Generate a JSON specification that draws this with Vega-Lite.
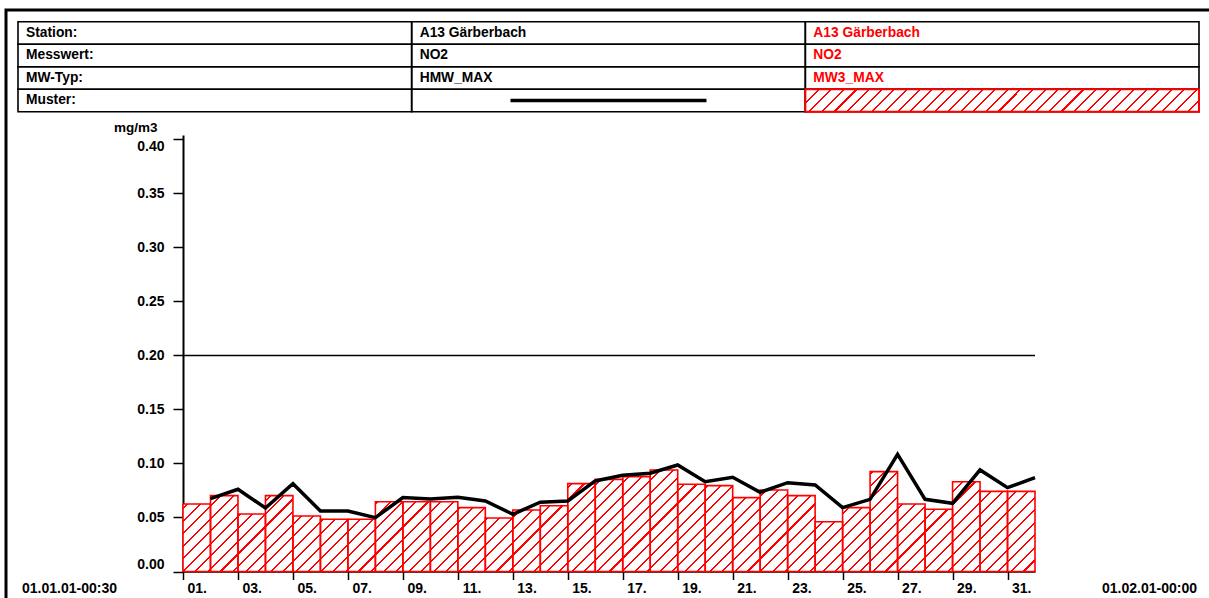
{
  "$schema": "https://vega.github.io/schema/vega-lite/v6.json",
  "width": 1205,
  "height": 590,
  "autosize": {"type": "none"},
  "padding": {"left": 6, "top": 10, "right": 0, "bottom": 0},
  "background": "white",
  "config": {
    "view": {"stroke": "black", "strokeWidth": 3},
    "font": "Liberation Sans",
    "text": {"font": "Liberation Sans"}
  },
  "datasets": {
    "days": [
      {"d0": 0, "d1": 1, "mw3": 0.0625, "hmw": 0.0674},
      {"d0": 1, "d1": 2, "mw3": 0.0702, "hmw": 0.0761},
      {"d0": 2, "d1": 3, "mw3": 0.0532, "hmw": 0.0588},
      {"d0": 3, "d1": 4, "mw3": 0.0702, "hmw": 0.0813},
      {"d0": 4, "d1": 5, "mw3": 0.0514, "hmw": 0.056},
      {"d0": 5, "d1": 6, "mw3": 0.0483, "hmw": 0.056},
      {"d0": 6, "d1": 7, "mw3": 0.0483, "hmw": 0.0498},
      {"d0": 7, "d1": 8, "mw3": 0.0646, "hmw": 0.0684},
      {"d0": 8, "d1": 9, "mw3": 0.0646, "hmw": 0.0671},
      {"d0": 9, "d1": 10, "mw3": 0.0646, "hmw": 0.0687},
      {"d0": 10, "d1": 11, "mw3": 0.0591, "hmw": 0.0653},
      {"d0": 11, "d1": 12, "mw3": 0.0495, "hmw": 0.053},
      {"d0": 12, "d1": 13, "mw3": 0.0569, "hmw": 0.0641},
      {"d0": 13, "d1": 14, "mw3": 0.0609, "hmw": 0.0653},
      {"d0": 14, "d1": 15, "mw3": 0.0813, "hmw": 0.0838},
      {"d0": 15, "d1": 16, "mw3": 0.0853, "hmw": 0.0891},
      {"d0": 16, "d1": 17, "mw3": 0.0878, "hmw": 0.0909},
      {"d0": 17, "d1": 18, "mw3": 0.094, "hmw": 0.0986},
      {"d0": 18, "d1": 19, "mw3": 0.0807, "hmw": 0.0831},
      {"d0": 19, "d1": 20, "mw3": 0.0795, "hmw": 0.0872},
      {"d0": 20, "d1": 21, "mw3": 0.0684, "hmw": 0.0733},
      {"d0": 21, "d1": 22, "mw3": 0.0755, "hmw": 0.0822},
      {"d0": 22, "d1": 23, "mw3": 0.0702, "hmw": 0.0801},
      {"d0": 23, "d1": 24, "mw3": 0.0461, "hmw": 0.0591},
      {"d0": 24, "d1": 25, "mw3": 0.0591, "hmw": 0.0668},
      {"d0": 25, "d1": 26, "mw3": 0.0924, "hmw": 0.1085},
      {"d0": 26, "d1": 27, "mw3": 0.0625, "hmw": 0.0668},
      {"d0": 27, "d1": 28, "mw3": 0.0576, "hmw": 0.0631},
      {"d0": 28, "d1": 29, "mw3": 0.0831, "hmw": 0.094},
      {"d0": 29, "d1": 30, "mw3": 0.0742, "hmw": 0.0776},
      {"d0": 30, "d1": 31, "mw3": 0.0742, "hmw": 0.0869}
    ],
    "limit": [{"y": 0.2}],
    "ends": [
      {"d": 0, "t": "01.01.01-00:30", "side": "left"},
      {"d": 31, "t": "01.02.01-00:00", "side": "right"}
    ],
    "table": [
      {"row": "Station:", "col": "c1", "text": "Station:"},
      {"row": "Station:", "col": "c2", "text": "A13 Gärberbach"},
      {"row": "Station:", "col": "c3", "text": "A13 Gärberbach"},
      {"row": "Messwert:", "col": "c1", "text": "Messwert:"},
      {"row": "Messwert:", "col": "c2", "text": "NO2"},
      {"row": "Messwert:", "col": "c3", "text": "NO2"},
      {"row": "MW-Typ:", "col": "c1", "text": "MW-Typ:"},
      {"row": "MW-Typ:", "col": "c2", "text": "HMW_MAX"},
      {"row": "MW-Typ:", "col": "c3", "text": "MW3_MAX"},
      {"row": "Muster:", "col": "c1", "text": "Muster:"},
      {"row": "Muster:", "col": "c2", "text": ""},
      {"row": "Muster:", "col": "c3", "text": ""}
    ],
    "legline": [{"row": "Muster:", "col": "c2"}],
    "leghatch": [{"row": "Muster:", "col": "c3"}]
  },
  "resolve": {"scale": {"x": "independent", "y": "independent", "color": "independent"}},
  "layer": [
    {
      "layer": [
        {
          "data": {"name": "days"},
          "transform": [{"fold": ["d0", "d1"], "as": ["k", "x"]}],
          "mark": {
            "type": "area",
            "interpolate": "linear",
            "fill": {
              "gradient": "linear", "x1": 0, "y1": 0, "x2": 1.10352, "y2": 0.13154,
              "stops": [
                {"offset":0,"color":"red"},{"offset":0.0022,"color":"red"},{"offset":0.0022,"color":"white"},{"offset":0.01316,"color":"white"},
                {"offset":0.01316,"color":"red"},{"offset":0.01536,"color":"red"},{"offset":0.01536,"color":"white"},{"offset":0.02632,"color":"white"},
                {"offset":0.02632,"color":"red"},{"offset":0.02852,"color":"red"},{"offset":0.02852,"color":"white"},{"offset":0.03947,"color":"white"},
                {"offset":0.03947,"color":"red"},{"offset":0.04167,"color":"red"},{"offset":0.04167,"color":"white"},{"offset":0.05263,"color":"white"},
                {"offset":0.05263,"color":"red"},{"offset":0.05483,"color":"red"},{"offset":0.05483,"color":"white"},{"offset":0.06579,"color":"white"},
                {"offset":0.06579,"color":"red"},{"offset":0.06799,"color":"red"},{"offset":0.06799,"color":"white"},{"offset":0.07895,"color":"white"},
                {"offset":0.07895,"color":"red"},{"offset":0.08115,"color":"red"},{"offset":0.08115,"color":"white"},{"offset":0.09211,"color":"white"},
                {"offset":0.09211,"color":"red"},{"offset":0.09431,"color":"red"},{"offset":0.09431,"color":"white"},{"offset":0.10526,"color":"white"},
                {"offset":0.10526,"color":"red"},{"offset":0.10746,"color":"red"},{"offset":0.10746,"color":"white"},{"offset":0.11842,"color":"white"},
                {"offset":0.11842,"color":"red"},{"offset":0.12062,"color":"red"},{"offset":0.12062,"color":"white"},{"offset":0.13158,"color":"white"},
                {"offset":0.13158,"color":"red"},{"offset":0.13378,"color":"red"},{"offset":0.13378,"color":"white"},{"offset":0.14474,"color":"white"},
                {"offset":0.14474,"color":"red"},{"offset":0.14694,"color":"red"},{"offset":0.14694,"color":"white"},{"offset":0.15789,"color":"white"},
                {"offset":0.15789,"color":"red"},{"offset":0.16009,"color":"red"},{"offset":0.16009,"color":"white"},{"offset":0.17105,"color":"white"},
                {"offset":0.17105,"color":"red"},{"offset":0.17325,"color":"red"},{"offset":0.17325,"color":"white"},{"offset":0.18421,"color":"white"},
                {"offset":0.18421,"color":"red"},{"offset":0.18641,"color":"red"},{"offset":0.18641,"color":"white"},{"offset":0.19737,"color":"white"},
                {"offset":0.19737,"color":"red"},{"offset":0.19957,"color":"red"},{"offset":0.19957,"color":"white"},{"offset":0.21053,"color":"white"},
                {"offset":0.21053,"color":"red"},{"offset":0.21273,"color":"red"},{"offset":0.21273,"color":"white"},{"offset":0.22368,"color":"white"},
                {"offset":0.22368,"color":"red"},{"offset":0.22588,"color":"red"},{"offset":0.22588,"color":"white"},{"offset":0.23684,"color":"white"},
                {"offset":0.23684,"color":"red"},{"offset":0.23904,"color":"red"},{"offset":0.23904,"color":"white"},{"offset":0.25,"color":"white"},
                {"offset":0.25,"color":"red"},{"offset":0.2522,"color":"red"},{"offset":0.2522,"color":"white"},{"offset":0.26316,"color":"white"},
                {"offset":0.26316,"color":"red"},{"offset":0.26536,"color":"red"},{"offset":0.26536,"color":"white"},{"offset":0.27632,"color":"white"},
                {"offset":0.27632,"color":"red"},{"offset":0.27852,"color":"red"},{"offset":0.27852,"color":"white"},{"offset":0.28947,"color":"white"},
                {"offset":0.28947,"color":"red"},{"offset":0.29167,"color":"red"},{"offset":0.29167,"color":"white"},{"offset":0.30263,"color":"white"},
                {"offset":0.30263,"color":"red"},{"offset":0.30483,"color":"red"},{"offset":0.30483,"color":"white"},{"offset":0.31579,"color":"white"},
                {"offset":0.31579,"color":"red"},{"offset":0.31799,"color":"red"},{"offset":0.31799,"color":"white"},{"offset":0.32895,"color":"white"},
                {"offset":0.32895,"color":"red"},{"offset":0.33115,"color":"red"},{"offset":0.33115,"color":"white"},{"offset":0.34211,"color":"white"},
                {"offset":0.34211,"color":"red"},{"offset":0.34431,"color":"red"},{"offset":0.34431,"color":"white"},{"offset":0.35526,"color":"white"},
                {"offset":0.35526,"color":"red"},{"offset":0.35746,"color":"red"},{"offset":0.35746,"color":"white"},{"offset":0.36842,"color":"white"},
                {"offset":0.36842,"color":"red"},{"offset":0.37062,"color":"red"},{"offset":0.37062,"color":"white"},{"offset":0.38158,"color":"white"},
                {"offset":0.38158,"color":"red"},{"offset":0.38378,"color":"red"},{"offset":0.38378,"color":"white"},{"offset":0.39474,"color":"white"},
                {"offset":0.39474,"color":"red"},{"offset":0.39694,"color":"red"},{"offset":0.39694,"color":"white"},{"offset":0.40789,"color":"white"},
                {"offset":0.40789,"color":"red"},{"offset":0.41009,"color":"red"},{"offset":0.41009,"color":"white"},{"offset":0.42105,"color":"white"},
                {"offset":0.42105,"color":"red"},{"offset":0.42325,"color":"red"},{"offset":0.42325,"color":"white"},{"offset":0.43421,"color":"white"},
                {"offset":0.43421,"color":"red"},{"offset":0.43641,"color":"red"},{"offset":0.43641,"color":"white"},{"offset":0.44737,"color":"white"},
                {"offset":0.44737,"color":"red"},{"offset":0.44957,"color":"red"},{"offset":0.44957,"color":"white"},{"offset":0.46053,"color":"white"},
                {"offset":0.46053,"color":"red"},{"offset":0.46273,"color":"red"},{"offset":0.46273,"color":"white"},{"offset":0.47368,"color":"white"},
                {"offset":0.47368,"color":"red"},{"offset":0.47588,"color":"red"},{"offset":0.47588,"color":"white"},{"offset":0.48684,"color":"white"},
                {"offset":0.48684,"color":"red"},{"offset":0.48904,"color":"red"},{"offset":0.48904,"color":"white"},{"offset":0.5,"color":"white"},
                {"offset":0.5,"color":"red"},{"offset":0.5022,"color":"red"},{"offset":0.5022,"color":"white"},{"offset":0.51316,"color":"white"},
                {"offset":0.51316,"color":"red"},{"offset":0.51536,"color":"red"},{"offset":0.51536,"color":"white"},{"offset":0.52632,"color":"white"},
                {"offset":0.52632,"color":"red"},{"offset":0.52852,"color":"red"},{"offset":0.52852,"color":"white"},{"offset":0.53947,"color":"white"},
                {"offset":0.53947,"color":"red"},{"offset":0.54167,"color":"red"},{"offset":0.54167,"color":"white"},{"offset":0.55263,"color":"white"},
                {"offset":0.55263,"color":"red"},{"offset":0.55483,"color":"red"},{"offset":0.55483,"color":"white"},{"offset":0.56579,"color":"white"},
                {"offset":0.56579,"color":"red"},{"offset":0.56799,"color":"red"},{"offset":0.56799,"color":"white"},{"offset":0.57895,"color":"white"},
                {"offset":0.57895,"color":"red"},{"offset":0.58115,"color":"red"},{"offset":0.58115,"color":"white"},{"offset":0.59211,"color":"white"},
                {"offset":0.59211,"color":"red"},{"offset":0.59431,"color":"red"},{"offset":0.59431,"color":"white"},{"offset":0.60526,"color":"white"},
                {"offset":0.60526,"color":"red"},{"offset":0.60746,"color":"red"},{"offset":0.60746,"color":"white"},{"offset":0.61842,"color":"white"},
                {"offset":0.61842,"color":"red"},{"offset":0.62062,"color":"red"},{"offset":0.62062,"color":"white"},{"offset":0.63158,"color":"white"},
                {"offset":0.63158,"color":"red"},{"offset":0.63378,"color":"red"},{"offset":0.63378,"color":"white"},{"offset":0.64474,"color":"white"},
                {"offset":0.64474,"color":"red"},{"offset":0.64694,"color":"red"},{"offset":0.64694,"color":"white"},{"offset":0.65789,"color":"white"},
                {"offset":0.65789,"color":"red"},{"offset":0.66009,"color":"red"},{"offset":0.66009,"color":"white"},{"offset":0.67105,"color":"white"},
                {"offset":0.67105,"color":"red"},{"offset":0.67325,"color":"red"},{"offset":0.67325,"color":"white"},{"offset":0.68421,"color":"white"},
                {"offset":0.68421,"color":"red"},{"offset":0.68641,"color":"red"},{"offset":0.68641,"color":"white"},{"offset":0.69737,"color":"white"},
                {"offset":0.69737,"color":"red"},{"offset":0.69957,"color":"red"},{"offset":0.69957,"color":"white"},{"offset":0.71053,"color":"white"},
                {"offset":0.71053,"color":"red"},{"offset":0.71273,"color":"red"},{"offset":0.71273,"color":"white"},{"offset":0.72368,"color":"white"},
                {"offset":0.72368,"color":"red"},{"offset":0.72588,"color":"red"},{"offset":0.72588,"color":"white"},{"offset":0.73684,"color":"white"},
                {"offset":0.73684,"color":"red"},{"offset":0.73904,"color":"red"},{"offset":0.73904,"color":"white"},{"offset":0.75,"color":"white"},
                {"offset":0.75,"color":"red"},{"offset":0.7522,"color":"red"},{"offset":0.7522,"color":"white"},{"offset":0.76316,"color":"white"},
                {"offset":0.76316,"color":"red"},{"offset":0.76536,"color":"red"},{"offset":0.76536,"color":"white"},{"offset":0.77632,"color":"white"},
                {"offset":0.77632,"color":"red"},{"offset":0.77852,"color":"red"},{"offset":0.77852,"color":"white"},{"offset":0.78947,"color":"white"},
                {"offset":0.78947,"color":"red"},{"offset":0.79167,"color":"red"},{"offset":0.79167,"color":"white"},{"offset":0.80263,"color":"white"},
                {"offset":0.80263,"color":"red"},{"offset":0.80483,"color":"red"},{"offset":0.80483,"color":"white"},{"offset":0.81579,"color":"white"},
                {"offset":0.81579,"color":"red"},{"offset":0.81799,"color":"red"},{"offset":0.81799,"color":"white"},{"offset":0.82895,"color":"white"},
                {"offset":0.82895,"color":"red"},{"offset":0.83115,"color":"red"},{"offset":0.83115,"color":"white"},{"offset":0.84211,"color":"white"},
                {"offset":0.84211,"color":"red"},{"offset":0.84431,"color":"red"},{"offset":0.84431,"color":"white"},{"offset":0.85526,"color":"white"},
                {"offset":0.85526,"color":"red"},{"offset":0.85746,"color":"red"},{"offset":0.85746,"color":"white"},{"offset":0.86842,"color":"white"},
                {"offset":0.86842,"color":"red"},{"offset":0.87062,"color":"red"},{"offset":0.87062,"color":"white"},{"offset":0.88158,"color":"white"},
                {"offset":0.88158,"color":"red"},{"offset":0.88378,"color":"red"},{"offset":0.88378,"color":"white"},{"offset":0.89474,"color":"white"},
                {"offset":0.89474,"color":"red"},{"offset":0.89694,"color":"red"},{"offset":0.89694,"color":"white"},{"offset":0.90789,"color":"white"},
                {"offset":0.90789,"color":"red"},{"offset":0.91009,"color":"red"},{"offset":0.91009,"color":"white"},{"offset":0.92105,"color":"white"},
                {"offset":0.92105,"color":"red"},{"offset":0.92325,"color":"red"},{"offset":0.92325,"color":"white"},{"offset":0.93421,"color":"white"},
                {"offset":0.93421,"color":"red"},{"offset":0.93641,"color":"red"},{"offset":0.93641,"color":"white"},{"offset":0.94737,"color":"white"},
                {"offset":0.94737,"color":"red"},{"offset":0.94957,"color":"red"},{"offset":0.94957,"color":"white"},{"offset":0.96053,"color":"white"},
                {"offset":0.96053,"color":"red"},{"offset":0.96273,"color":"red"},{"offset":0.96273,"color":"white"},{"offset":0.97368,"color":"white"},
                {"offset":0.97368,"color":"red"},{"offset":0.97588,"color":"red"},{"offset":0.97588,"color":"white"},{"offset":0.98684,"color":"white"},
                {"offset":0.98684,"color":"red"},{"offset":0.98904,"color":"red"},{"offset":0.98904,"color":"white"},{"offset":1,"color":"white"}
              ]
            }
          },
          "encoding": {
            "x": {"field": "x", "type": "quantitative", "scale": {"domain": [0, 31], "range": [177, 1029], "nice": false}},
            "y": {"field": "mw3", "type": "quantitative", "stack": null, "scale": {"domain": [0, 0.404], "range": [561.5, 125], "nice": false}},
            "y2": {"datum": 0}
          }
        },
        {
          "data": {"name": "days"},
          "mark": {"type": "rect", "fill": null, "stroke": "#ff0000", "strokeWidth": 1.6},
          "encoding": {
            "x": {"field": "d0", "type": "quantitative", "scale": {"domain": [0, 31], "range": [177, 1029], "nice": false},
              "axis": {
                "values": [0,1,2,3,4,5,6,7,8,9,10,11,12,13,14,15,16,17,18,19,20,21,22,23,24,25,26,27,28,29,30,31],
                "labelExpr": "datum.value % 2 == 0 && datum.value < 31 ? format(datum.value + 1, '02d') + '.' : ''",
                "labelOffset": 13.75, "labelPadding": 2, "tickSize": 8, "tickWidth": 1.5, "tickColor": "black",
                "domainColor": "black", "domainWidth": 1.5, "labelColor": "black",
                "labelFont": "Liberation Sans", "labelFontSize": 14, "labelFontWeight": "bold",
                "labelOverlap": false, "labelFlush": false, "labelBound": false, "grid": false,
                "offset": -28.5, "title": null
              }},
            "x2": {"field": "d1"},
            "y": {"field": "mw3", "type": "quantitative", "stack": null, "scale": {"domain": [0, 0.404], "range": [561.5, 125], "nice": false},
              "axis": {
                "values": [0, 0.05, 0.1, 0.15, 0.2, 0.25, 0.3, 0.35, 0.4],
                "format": ".2f", "tickSize": 10, "tickWidth": 1.5, "tickColor": "black",
                "domainColor": "black", "domainWidth": 2, "labelColor": "black",
                "labelFont": "Liberation Sans", "labelFontSize": 14, "labelFontWeight": "bold", "labelPadding": 9,
                "labelFlush": 6, "labelFlushOffset": 0, "labelOverlap": false,
                "grid": false, "offset": -177,
                "title": "mg/m3", "titleAngle": 0, "titleX": -26, "titleY": 121, "titleAlign": "right", "titleBaseline": "alphabetic",
                "titleFont": "Liberation Sans", "titleFontSize": 13.5, "titleFontWeight": "bold", "titleColor": "black"
              }},
            "y2": {"datum": 0}
          }
        },
        {
          "data": {"name": "limit"},
          "mark": {"type": "rule", "stroke": "black", "strokeWidth": 1.5},
          "encoding": {
            "x": {"datum": 0, "type": "quantitative"},
            "x2": {"datum": 31},
            "y": {"field": "y", "type": "quantitative"}
          }
        },
        {
          "data": {"name": "days"},
          "mark": {"type": "line", "stroke": "black", "strokeWidth": 3.5, "strokeJoin": "miter"},
          "encoding": {
            "x": {"field": "d1", "type": "quantitative"},
            "y": {"field": "hmw", "type": "quantitative"}
          }
        },
        {
          "data": {"name": "ends"},
          "transform": [{"filter": "datum.side == 'left'"}],
          "mark": {"type": "text", "align": "right", "baseline": "middle", "dx": -66, "dy": 17.5, "font": "Liberation Sans", "fontSize": 14, "fontWeight": "bold", "fill": "black"},
          "encoding": {
            "x": {"field": "d", "type": "quantitative"},
            "y": {"datum": 0, "type": "quantitative"},
            "text": {"field": "t"}
          }
        },
        {
          "data": {"name": "ends"},
          "transform": [{"filter": "datum.side == 'right'"}],
          "mark": {"type": "text", "align": "left", "baseline": "middle", "dx": 67, "dy": 17.5, "font": "Liberation Sans", "fontSize": 14, "fontWeight": "bold", "fill": "black"},
          "encoding": {
            "x": {"field": "d", "type": "quantitative"},
            "y": {"datum": 0, "type": "quantitative"},
            "text": {"field": "t"}
          }
        }
      ]
    },
    {
      "layer": [
        {
          "data": {"name": "table"},
          "mark": {"type": "rect", "fill": null, "stroke": "black", "strokeWidth": 1.6},
          "encoding": {
            "x": {"field": "col", "type": "nominal", "scale": {"domain": ["c1", "c2", "c3"], "range": [12, 1193], "paddingInner": 0, "paddingOuter": 0}, "axis": null},
            "y": {"field": "row", "type": "nominal", "scale": {"domain": ["Station:", "Messwert:", "MW-Typ:", "Muster:"], "range": [11.7, 101.7], "paddingInner": 0, "paddingOuter": 0}, "axis": null}
          }
        },
        {
          "data": {"name": "table"},
          "mark": {"type": "text", "align": "left", "baseline": "middle", "dx": 8, "font": "Liberation Sans", "fontSize": 13.8, "fontWeight": "bold"},
          "encoding": {
            "x": {"field": "col", "type": "nominal", "bandPosition": 0},
            "y": {"field": "row", "type": "nominal"},
            "text": {"field": "text"},
            "color": {"field": "col", "type": "nominal", "scale": {"domain": ["c1", "c2", "c3"], "range": ["black", "black", "#ff0000"]}, "legend": null}
          }
        },
        {
          "data": {"name": "legline"},
          "mark": {"type": "tick", "orient": "horizontal", "size": 196, "thickness": 3.5, "color": "black", "opacity": 1},
          "encoding": {
            "x": {"field": "col", "type": "nominal"},
            "y": {"field": "row", "type": "nominal"}
          }
        },
        {
          "data": {"name": "leghatch"},
          "mark": {
            "type": "rect", "stroke": "#ff0000", "strokeWidth": 2,
            "fill": {
              "gradient": "linear", "x1": 0, "y1": 0, "x2": 1.0537, "y2": 0.06022,
              "stops": [
                {"offset":0,"color":"red"},{"offset":0.005,"color":"red"},{"offset":0.005,"color":"white"},{"offset":0.0303,"color":"white"},
                {"offset":0.0303,"color":"red"},{"offset":0.0353,"color":"red"},{"offset":0.0353,"color":"white"},{"offset":0.06061,"color":"white"},
                {"offset":0.06061,"color":"red"},{"offset":0.06561,"color":"red"},{"offset":0.06561,"color":"white"},{"offset":0.09091,"color":"white"},
                {"offset":0.09091,"color":"red"},{"offset":0.09591,"color":"red"},{"offset":0.09591,"color":"white"},{"offset":0.12121,"color":"white"},
                {"offset":0.12121,"color":"red"},{"offset":0.12621,"color":"red"},{"offset":0.12621,"color":"white"},{"offset":0.15152,"color":"white"},
                {"offset":0.15152,"color":"red"},{"offset":0.15652,"color":"red"},{"offset":0.15652,"color":"white"},{"offset":0.18182,"color":"white"},
                {"offset":0.18182,"color":"red"},{"offset":0.18682,"color":"red"},{"offset":0.18682,"color":"white"},{"offset":0.21212,"color":"white"},
                {"offset":0.21212,"color":"red"},{"offset":0.21712,"color":"red"},{"offset":0.21712,"color":"white"},{"offset":0.24242,"color":"white"},
                {"offset":0.24242,"color":"red"},{"offset":0.24742,"color":"red"},{"offset":0.24742,"color":"white"},{"offset":0.27273,"color":"white"},
                {"offset":0.27273,"color":"red"},{"offset":0.27773,"color":"red"},{"offset":0.27773,"color":"white"},{"offset":0.30303,"color":"white"},
                {"offset":0.30303,"color":"red"},{"offset":0.30803,"color":"red"},{"offset":0.30803,"color":"white"},{"offset":0.33333,"color":"white"},
                {"offset":0.33333,"color":"red"},{"offset":0.33833,"color":"red"},{"offset":0.33833,"color":"white"},{"offset":0.36364,"color":"white"},
                {"offset":0.36364,"color":"red"},{"offset":0.36864,"color":"red"},{"offset":0.36864,"color":"white"},{"offset":0.39394,"color":"white"},
                {"offset":0.39394,"color":"red"},{"offset":0.39894,"color":"red"},{"offset":0.39894,"color":"white"},{"offset":0.42424,"color":"white"},
                {"offset":0.42424,"color":"red"},{"offset":0.42924,"color":"red"},{"offset":0.42924,"color":"white"},{"offset":0.45455,"color":"white"},
                {"offset":0.45455,"color":"red"},{"offset":0.45955,"color":"red"},{"offset":0.45955,"color":"white"},{"offset":0.48485,"color":"white"},
                {"offset":0.48485,"color":"red"},{"offset":0.48985,"color":"red"},{"offset":0.48985,"color":"white"},{"offset":0.51515,"color":"white"},
                {"offset":0.51515,"color":"red"},{"offset":0.52015,"color":"red"},{"offset":0.52015,"color":"white"},{"offset":0.54545,"color":"white"},
                {"offset":0.54545,"color":"red"},{"offset":0.55045,"color":"red"},{"offset":0.55045,"color":"white"},{"offset":0.57576,"color":"white"},
                {"offset":0.57576,"color":"red"},{"offset":0.58076,"color":"red"},{"offset":0.58076,"color":"white"},{"offset":0.60606,"color":"white"},
                {"offset":0.60606,"color":"red"},{"offset":0.61106,"color":"red"},{"offset":0.61106,"color":"white"},{"offset":0.63636,"color":"white"},
                {"offset":0.63636,"color":"red"},{"offset":0.64136,"color":"red"},{"offset":0.64136,"color":"white"},{"offset":0.66667,"color":"white"},
                {"offset":0.66667,"color":"red"},{"offset":0.67167,"color":"red"},{"offset":0.67167,"color":"white"},{"offset":0.69697,"color":"white"},
                {"offset":0.69697,"color":"red"},{"offset":0.70197,"color":"red"},{"offset":0.70197,"color":"white"},{"offset":0.72727,"color":"white"},
                {"offset":0.72727,"color":"red"},{"offset":0.73227,"color":"red"},{"offset":0.73227,"color":"white"},{"offset":0.75758,"color":"white"},
                {"offset":0.75758,"color":"red"},{"offset":0.76258,"color":"red"},{"offset":0.76258,"color":"white"},{"offset":0.78788,"color":"white"},
                {"offset":0.78788,"color":"red"},{"offset":0.79288,"color":"red"},{"offset":0.79288,"color":"white"},{"offset":0.81818,"color":"white"},
                {"offset":0.81818,"color":"red"},{"offset":0.82318,"color":"red"},{"offset":0.82318,"color":"white"},{"offset":0.84848,"color":"white"},
                {"offset":0.84848,"color":"red"},{"offset":0.85348,"color":"red"},{"offset":0.85348,"color":"white"},{"offset":0.87879,"color":"white"},
                {"offset":0.87879,"color":"red"},{"offset":0.88379,"color":"red"},{"offset":0.88379,"color":"white"},{"offset":0.90909,"color":"white"},
                {"offset":0.90909,"color":"red"},{"offset":0.91409,"color":"red"},{"offset":0.91409,"color":"white"},{"offset":0.93939,"color":"white"},
                {"offset":0.93939,"color":"red"},{"offset":0.94439,"color":"red"},{"offset":0.94439,"color":"white"},{"offset":0.9697,"color":"white"},
                {"offset":0.9697,"color":"red"},{"offset":0.9747,"color":"red"},{"offset":0.9747,"color":"white"},{"offset":1,"color":"white"}
              ]
            }
          },
          "encoding": {
            "x": {"field": "col", "type": "nominal"},
            "y": {"field": "row", "type": "nominal"}
          }
        }
      ]
    }
  ]
}
